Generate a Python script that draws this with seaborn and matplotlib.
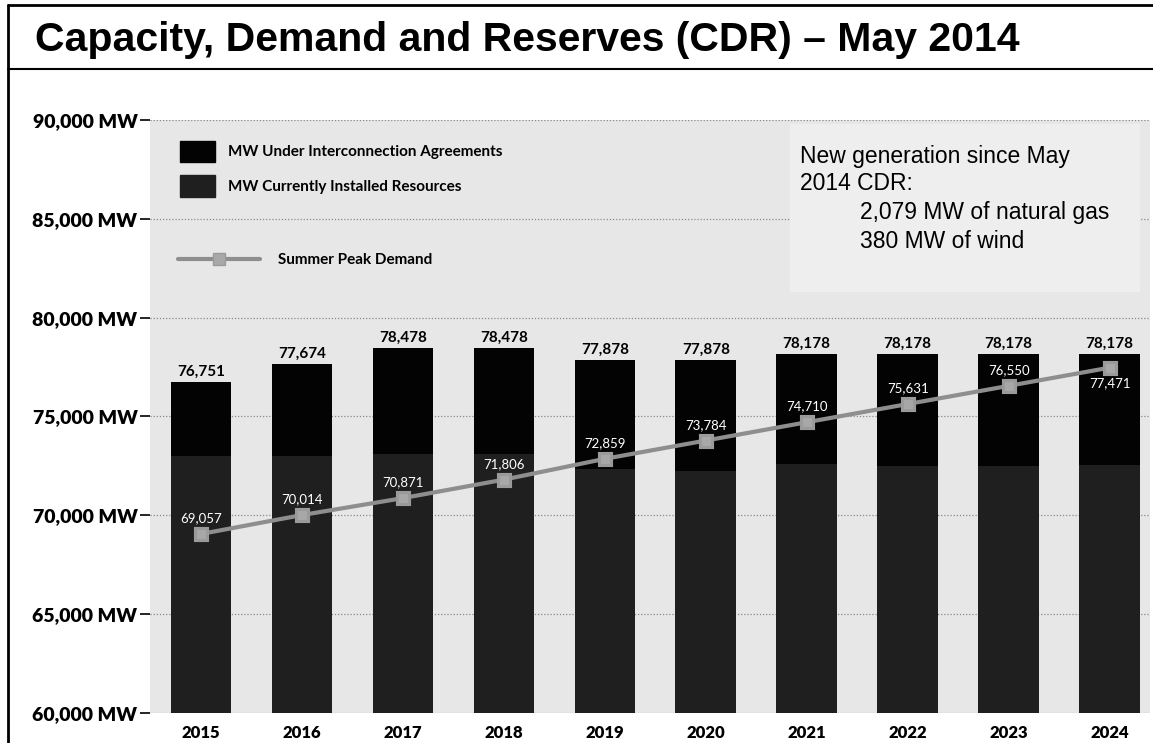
import numpy as np
import pandas as pd
import matplotlib
matplotlib.use("Agg")
import matplotlib.pyplot as plt
import seaborn as sns
from matplotlib.patches import Patch, Rectangle
from matplotlib.lines import Line2D

# ---------------- data ----------------
years = ["2015", "2016", "2017", "2018", "2019", "2020", "2021", "2022", "2023", "2024"]
total_capacity = [76751, 77674, 78478, 78478, 77878, 77878, 78178, 78178, 78178, 78178]
installed = [73000, 73000, 73100, 73100, 72350, 72250, 72600, 72500, 72500, 72550]
peak_demand = [69057, 70014, 70871, 71806, 72859, 73784, 74710, 75631, 76550, 77471]
y_ticks = [60000, 65000, 70000, 75000, 80000, 85000, 90000]
y_tick_labels = [f"{v:,} MW" for v in y_ticks]

title = "Capacity, Demand and Reserves (CDR) \u2013 May 2014"
legend_labels = ["MW Under Interconnection Agreements", "MW Currently Installed Resources",
                 "Summer Peak Demand"]
note_lines = ["New generation since May", "2014 CDR:",
              "2,079 MW of natural gas", "380 MW of wind"]

df = pd.DataFrame({"year": years, "total": total_capacity,
                   "installed": installed, "demand": peak_demand})

# ---------------- style ----------------
sns.set_theme(style="white")
plt.rcParams["font.family"] = ["Lato", "DejaVu Sans"]
plt.rcParams["text.color"] = "black"
plt.rcParams["axes.labelcolor"] = "black"
plt.rcParams["xtick.color"] = "black"
plt.rcParams["ytick.color"] = "black"

W, H = 1153, 743
fig = plt.figure(figsize=(W / 100, H / 100), dpi=100)
fig.patch.set_facecolor("white")

ax_left, ax_right, ax_top, ax_bottom = 150, 1150, 120, 713
ax = fig.add_axes([ax_left / W, 1 - ax_bottom / H, (ax_right - ax_left) / W, (ax_bottom - ax_top) / H])
ax.set_facecolor("#e7e7e7")

top_color = "#030303"
inst_color = "#1f1f1f"
line_color = "#8e8e8e"

sns.barplot(data=df, x="year", y="total", color=top_color, saturation=1, width=0.6,
            linewidth=0, edgecolor="none", ax=ax)
sns.barplot(data=df, x="year", y="installed", color=inst_color, saturation=1, width=0.6,
            linewidth=0, edgecolor="none", ax=ax)
sns.pointplot(data=df, x="year", y="demand", color=line_color, markers="s",
              markersize=8.5, linewidth=3, ax=ax)
for ln in ax.lines:
    ln.set_markerfacecolor("#a8a8a8")
    ln.set_markeredgecolor("#9a9a9a")
    ln.set_zorder(4)

ax.set_ylim(60000, 90000)
ax.set_xlim(-0.505, 9.4)
ax.set_xlabel("")
ax.set_ylabel("")
for s in ax.spines.values():
    s.set_visible(False)

ax.set_yticks(y_ticks)
ax.set_yticklabels(y_tick_labels, fontsize=14, fontweight="heavy", color="black")
ax.tick_params(axis="y", left=True, length=7, width=1.2, color="black", pad=2)
ax.tick_params(axis="x", bottom=False, length=0, pad=9)
for lbl in ax.get_xticklabels():
    lbl.set_fontsize(12)
    lbl.set_fontweight("heavy")
    lbl.set_color("black")

ax.yaxis.grid(True, linestyle=(0, (1, 1.5)), color="#8a8a8a", linewidth=0.9)
ax.xaxis.grid(False)
ax.set_axisbelow(True)

# value labels
for i, v in enumerate(total_capacity):
    ax.annotate(f"{v:,}", (i, v), xytext=(0, 2), textcoords="offset points",
                ha="center", va="bottom", fontsize=11, color="black", fontweight="bold")
for i, (d, t) in enumerate(zip(peak_demand, total_capacity)):
    room_above = (t - d) > 1500
    ax.annotate(f"{d:,}", (i, d), xytext=(0, 7 if room_above else -7),
                textcoords="offset points", ha="center",
                va="bottom" if room_above else "top",
                fontsize=9.5, color="white", zorder=5)

# legends
h1 = [Patch(facecolor=top_color, edgecolor=top_color),
      Patch(facecolor=inst_color, edgecolor=inst_color)]
leg1 = ax.legend(h1, legend_labels[:2], loc="upper left",
                 bbox_to_anchor=((172 - ax_left) / 1000, (ax_bottom - 133) / 593),
                 frameon=False, borderpad=0, handlelength=2.3, handleheight=1.8,
                 labelspacing=0.85, handletextpad=0.85,
                 prop={"size": 11, "weight": "bold"}, labelcolor="black")
ax.add_artist(leg1)
h2 = [Line2D([0], [0], color=line_color, lw=3, marker="s", markersize=8.5,
             markerfacecolor="#a8a8a8", markeredgecolor="#9a9a9a")]
ax.legend(h2, legend_labels[2:], loc="center left",
          bbox_to_anchor=((170 - ax_left) / 1000, (ax_bottom - 260) / 593),
          frameon=False, borderpad=0, handlelength=5.4, handletextpad=1.2,
          prop={"size": 11, "weight": "bold"}, labelcolor="black")

# note box
ax.add_patch(Rectangle(((790 - ax_left) / 1000, (ax_bottom - 292) / 593),
                       (1140 - 790) / 1000, (292 - 124) / 593,
                       transform=ax.transAxes, facecolor="#eeeeee", edgecolor="none", zorder=1))
note_x = [800, 800, 860, 860]
note_y = [156, 184, 213, 241]
for txt, px, py in zip(note_lines, note_x, note_y):
    ax.text((px - ax_left) / 1000, (ax_bottom - py) / 593, txt, transform=ax.transAxes,
            ha="left", va="center", fontsize=16.5, color="black",
            family=["Liberation Sans", "DejaVu Sans"], zorder=3)

# title and frame
fig.text(35 / W, 1 - 40 / H, title, ha="left", va="center", fontsize=29.5, fontweight="bold",
         color="black", family=["Liberation Sans", "DejaVu Sans"])
fig.add_artist(Line2D([8 / W, 8 / W], [0, 1 - 5 / H], transform=fig.transFigure,
                      color="black", lw=2))
fig.add_artist(Line2D([8 / W, 1], [1 - 5 / H, 1 - 5 / H], transform=fig.transFigure,
                      color="black", lw=2))
fig.add_artist(Line2D([8 / W, 1], [1 - 69 / H, 1 - 69 / H], transform=fig.transFigure,
                      color="black", lw=1.5))

fig.savefig("out.png", dpi=100)
